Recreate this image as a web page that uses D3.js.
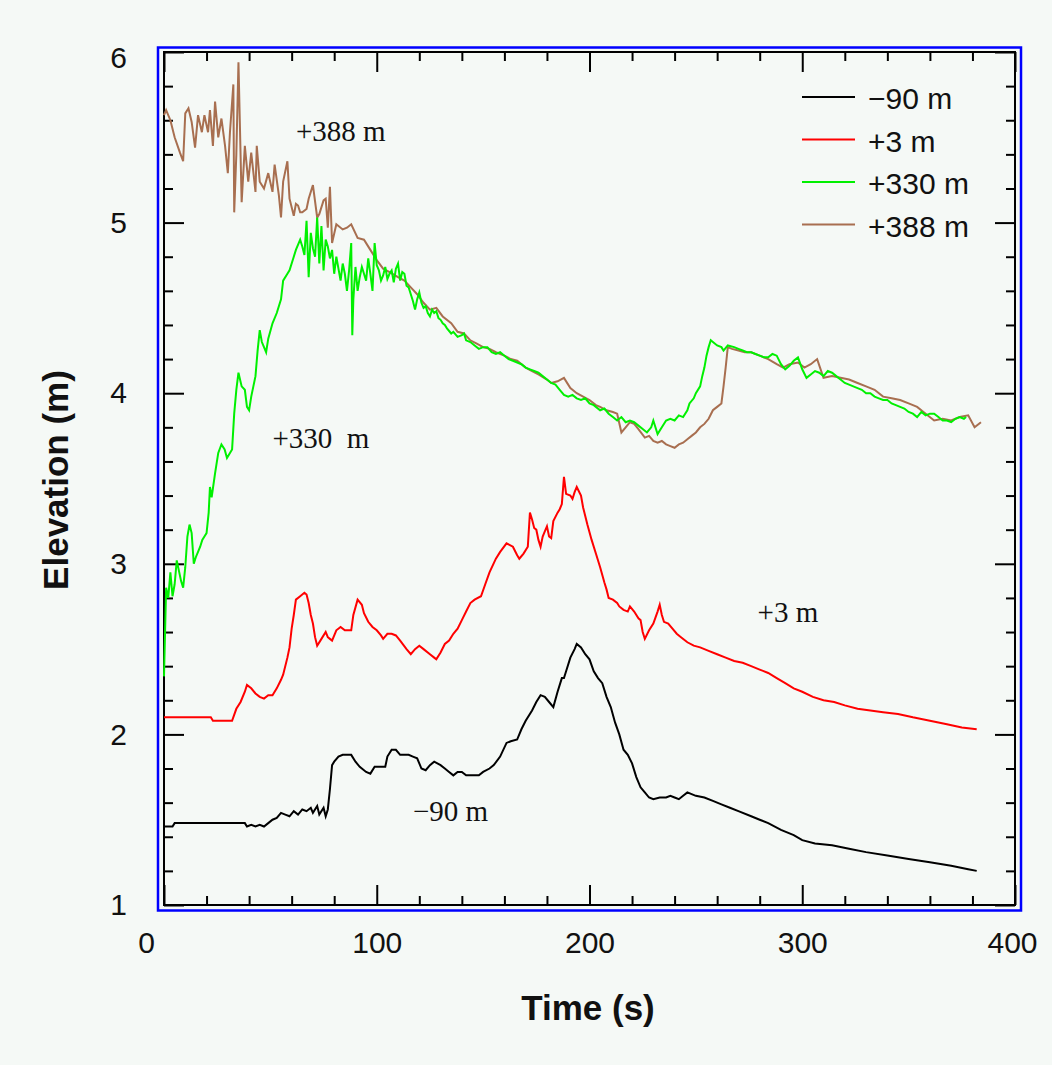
<!DOCTYPE html>
<html>
<head>
<meta charset="utf-8">
<script src="https://cdn.jsdelivr.net/npm/d3@7"></script>
<style>
  body { margin: 0; background: #f5f9f6; }
  svg { display: block; }
</style>
</head>
<body>
<script>
// series: [time (s), elevation (m)]
const blackData = [[0,1.46],[4,1.46],[5,1.48],[30,1.48],[38,1.48],[39,1.46],[41,1.47],[43,1.46],[45,1.47],[47,1.46],[49,1.48],[51,1.50],[53,1.51],[55,1.54],[57,1.53],[59,1.52],[61,1.55],[63,1.53],[65,1.56],[67,1.55],[69,1.57],[70,1.54],[72,1.58],[73,1.53],[75,1.57],[76,1.52],[77,1.56],[78,1.68],[79,1.82],[80,1.84],[82,1.87],[84,1.88],[88,1.88],[90,1.84],[92,1.81],[95,1.78],[97,1.77],[99,1.81],[104,1.81],[105,1.87],[107,1.91],[109,1.91],[111,1.88],[115,1.88],[117,1.87],[119,1.86],[121,1.80],[123,1.79],[125,1.82],[127,1.84],[130,1.82],[132,1.80],[134,1.78],[136,1.76],[138,1.78],[140,1.78],[142,1.76],[146,1.76],[148,1.76],[150,1.78],[153,1.80],[155,1.82],[158,1.87],[161,1.95],[163,1.96],[166,1.97],[168,2.03],[170,2.08],[173,2.14],[175,2.19],[177,2.23],[179,2.22],[181,2.19],[183,2.16],[185,2.25],[187,2.33],[188,2.33],[189,2.37],[191,2.45],[193,2.50],[194,2.53],[196,2.51],[198,2.47],[200,2.44],[202,2.37],[204,2.33],[206,2.30],[208,2.22],[210,2.16],[212,2.07],[214,2.00],[216,1.91],[218,1.88],[220,1.83],[222,1.75],[224,1.69],[226,1.66],[228,1.63],[230,1.62],[233,1.63],[236,1.63],[238,1.64],[240,1.63],[242,1.62],[244,1.64],[246,1.66],[248,1.65],[250,1.64],[254,1.63],[258,1.61],[262,1.59],[266,1.57],[270,1.55],[276,1.52],[280,1.50],[284,1.48],[290,1.44],[296,1.41],[300,1.38],[306,1.36],[314,1.35],[322,1.33],[330,1.31],[340,1.29],[350,1.27],[360,1.25],[370,1.23],[378,1.21],[382,1.20]];

const redData = [[0,2.10],[22,2.10],[23,2.08],[32,2.08],[34,2.15],[36,2.19],[38,2.25],[39,2.29],[41,2.27],[43,2.24],[45,2.22],[47,2.21],[49,2.23],[51,2.23],[53,2.27],[55,2.32],[56,2.35],[58,2.45],[59,2.51],[60,2.62],[61,2.70],[62,2.79],[64,2.81],[66,2.83],[67,2.82],[68,2.77],[69,2.70],[70,2.65],[71,2.57],[72,2.52],[74,2.56],[76,2.60],[77,2.57],[78,2.56],[79,2.55],[81,2.61],[83,2.63],[85,2.61],[88,2.61],[89,2.70],[91,2.79],[93,2.76],[94,2.71],[96,2.66],[98,2.63],[100,2.61],[102,2.58],[103,2.56],[105,2.59],[107,2.59],[109,2.58],[111,2.55],[114,2.50],[116,2.47],[118,2.50],[120,2.52],[122,2.50],[125,2.47],[127,2.45],[128,2.44],[130,2.48],[132,2.53],[134,2.55],[136,2.59],[138,2.62],[140,2.67],[142,2.72],[144,2.77],[146,2.79],[149,2.81],[151,2.88],[153,2.95],[156,3.03],[158,3.07],[161,3.12],[164,3.10],[166,3.05],[167,3.03],[169,3.06],[171,3.10],[172,3.30],[173,3.26],[174,3.21],[175,3.20],[176,3.14],[177,3.10],[178,3.16],[179,3.19],[180,3.22],[181,3.16],[182,3.15],[183,3.25],[185,3.30],[186,3.32],[187,3.35],[188,3.51],[189,3.41],[191,3.40],[192,3.38],[193,3.42],[194,3.45],[196,3.40],[197,3.33],[199,3.23],[201,3.14],[203,3.06],[205,2.98],[207,2.89],[208,2.85],[209,2.80],[211,2.79],[213,2.77],[214,2.75],[216,2.73],[218,2.72],[219,2.75],[221,2.72],[223,2.68],[224,2.67],[225,2.60],[226,2.56],[228,2.61],[230,2.65],[232,2.72],[233,2.76],[234,2.70],[235,2.66],[237,2.65],[239,2.62],[241,2.59],[243,2.57],[246,2.54],[249,2.52],[252,2.51],[256,2.49],[260,2.47],[264,2.45],[268,2.43],[272,2.42],[276,2.40],[280,2.38],[284,2.36],[288,2.33],[292,2.30],[296,2.27],[300,2.25],[305,2.22],[310,2.20],[315,2.19],[320,2.17],[326,2.15],[332,2.14],[338,2.13],[345,2.12],[352,2.10],[360,2.08],[368,2.06],[375,2.04],[382,2.03]];

const greenData = [[0,2.34],[0.5,2.60],[1,2.86],[2,2.80],[3,2.95],[4,2.81],[5,2.88],[6,3.02],[7,2.96],[8,2.90],[9,2.86],[10,2.98],[11,3.16],[12,3.23],[13,3.18],[14,3.00],[15,3.04],[16,3.07],[17,3.10],[18,3.14],[19,3.16],[20,3.18],[21,3.30],[21.6,3.45],[22.4,3.39],[24,3.53],[25.5,3.65],[27,3.70],[28.5,3.67],[29.6,3.62],[31,3.65],[32,3.67],[33,3.88],[34,4.02],[35,4.12],[36.5,4.04],[38,4.02],[39,3.92],[40,3.90],[41,3.98],[43,4.10],[44,4.25],[45,4.37],[46,4.30],[48,4.24],[49,4.32],[51,4.41],[53,4.47],[55,4.55],[56,4.66],[58,4.70],[59,4.72],[61,4.80],[62,4.84],[64,4.90],[65,4.86],[66,4.81],[67,5.01],[68,4.68],[69,4.94],[70,4.85],[71,4.80],[72,5.03],[73,4.76],[74,4.98],[75,4.72],[76,4.90],[77,4.86],[78,4.79],[79,4.84],[80,4.70],[81,4.80],[82,4.73],[83,4.66],[84,4.76],[85,4.70],[86,4.60],[87,4.72],[88,4.88],[88.5,4.34],[89,4.55],[90,4.74],[91,4.60],[92,4.68],[93,4.74],[94,4.70],[95,4.66],[96,4.79],[97,4.70],[98,4.60],[99,4.88],[100,4.75],[101,4.72],[102,4.66],[103,4.69],[104,4.74],[105,4.67],[106,4.70],[107,4.72],[108,4.65],[109,4.73],[110,4.76],[111,4.66],[112,4.71],[113,4.70],[114,4.63],[115,4.62],[116,4.58],[117,4.54],[118,4.49],[119,4.55],[120,4.59],[121,4.53],[122,4.50],[123,4.51],[124,4.47],[125,4.45],[126,4.49],[127,4.47],[128,4.48],[129,4.44],[130,4.43],[131,4.41],[132,4.40],[133,4.38],[135,4.35],[136,4.36],[138,4.33],[140,4.34],[141,4.35],[142,4.31],[144,4.30],[146,4.28],[148,4.26],[150,4.27],[152,4.27],[154,4.24],[156,4.23],[158,4.24],[160,4.22],[162,4.20],[164,4.19],[166,4.18],[168,4.17],[170,4.15],[172,4.14],[174,4.13],[176,4.12],[178,4.10],[180,4.08],[182,4.06],[184,4.05],[186,4.02],[188,3.99],[190,3.98],[192,3.99],[194,3.97],[196,3.96],[198,3.97],[200,3.94],[202,3.93],[205,3.90],[207,3.91],[209,3.88],[211,3.86],[213,3.84],[215,3.86],[217,3.83],[219,3.84],[221,3.83],[223,3.81],[225,3.79],[227,3.77],[229,3.80],[230,3.84],[232,3.76],[234,3.80],[236,3.84],[238,3.85],[240,3.84],[242,3.87],[244,3.86],[246,3.90],[247,3.94],[249,3.97],[250,4.00],[252,4.04],[253,4.10],[254,4.15],[255,4.22],[256,4.27],[257,4.31],[258,4.30],[260,4.28],[262,4.27],[263,4.25],[265,4.28],[268,4.27],[270,4.26],[272,4.25],[274,4.24],[276,4.24],[278,4.23],[280,4.22],[282,4.21],[284,4.21],[286,4.23],[288,4.22],[290,4.17],[292,4.14],[294,4.16],[296,4.19],[298,4.21],[300,4.14],[302,4.09],[304,4.11],[306,4.13],[308,4.12],[310,4.10],[312,4.13],[314,4.12],[316,4.10],[318,4.08],[320,4.06],[322,4.05],[324,4.04],[326,4.03],[328,4.02],[330,4.00],[332,4.00],[334,3.98],[336,3.97],[338,3.96],[340,3.96],[342,3.94],[344,3.93],[346,3.92],[348,3.91],[350,3.89],[352,3.88],[354,3.86],[356,3.89],[358,3.87],[360,3.88],[362,3.88],[364,3.86],[366,3.84],[368,3.84],[370,3.83],[372,3.85],[374,3.86],[376,3.85],[377,3.86]];

const brownData = [[0,5.63],[1,5.66],[3,5.60],[5,5.50],[7.5,5.41],[9,5.36],[10,5.64],[11.5,5.67],[13,5.59],[14.6,5.44],[16,5.63],[17.8,5.53],[19,5.63],[20.7,5.53],[21.6,5.66],[23,5.45],[24,5.71],[25.5,5.50],[27,5.61],[28.7,5.45],[30,5.29],[31,5.53],[32.6,5.81],[33,5.06],[34,5.40],[35,5.94],[36.5,5.12],[38,5.45],[39.6,5.24],[41,5.41],[43,5.18],[43.6,5.45],[45,5.24],[47,5.20],[49,5.29],[51,5.18],[52,5.34],[54,5.16],[55,5.03],[56,5.24],[58,5.36],[59,5.14],[61,5.04],[62,5.11],[63,5.10],[64,5.06],[65,5.06],[67,5.08],[68,5.14],[70,5.22],[72,5.03],[73,5.05],[75,5.13],[76,5.14],[77,4.97],[78,5.21],[79,4.88],[81,4.99],[84,4.96],[86,4.97],[88,4.99],[91,4.91],[94,4.90],[97,4.84],[100,4.78],[103,4.73],[106,4.71],[110,4.68],[113,4.66],[116,4.62],[119,4.58],[122,4.53],[125,4.49],[128,4.50],[131,4.45],[135,4.41],[138,4.36],[141,4.35],[144,4.31],[147,4.29],[150,4.27],[153,4.26],[156,4.24],[160,4.22],[163,4.20],[166,4.19],[170,4.15],[173,4.13],[176,4.11],[180,4.08],[182,4.06],[185,4.07],[188,4.09],[191,4.03],[194,4.00],[197,3.98],[200,3.96],[203,3.93],[205,3.92],[208,3.90],[211,3.89],[213,3.88],[215,3.77],[217,3.80],[219,3.83],[221,3.82],[223,3.79],[226,3.74],[228,3.75],[230,3.72],[232,3.71],[234,3.72],[236,3.70],[238,3.69],[240,3.68],[242,3.70],[244,3.71],[246,3.73],[248,3.75],[250,3.77],[252,3.80],[254,3.82],[256,3.85],[258,3.90],[260,3.92],[262,3.94],[263,4.04],[264,4.15],[265,4.27],[267,4.26],[270,4.25],[273,4.24],[276,4.24],[280,4.22],[284,4.20],[288,4.17],[291,4.15],[294,4.17],[298,4.18],[301,4.15],[304,4.17],[307,4.20],[310,4.09],[314,4.10],[318,4.09],[322,4.08],[326,4.06],[330,4.04],[334,4.02],[338,3.98],[342,3.97],[346,3.96],[350,3.94],[354,3.92],[358,3.88],[362,3.84],[366,3.85],[370,3.84],[374,3.86],[378,3.87],[381,3.80],[384,3.83]];

const seriesNames = ["\u221290 m", "+3 m", "+330 m", "+388 m"];
const seriesColors = ["#000000", "#ff0000", "#00f000", "#a86f50"];

const xMajor = [0, 100, 200, 300, 400];
const yMajor = [1, 2, 3, 4, 5, 6];

// labels written on the curves
const notes = [
  {text: "+388 m", t: 62, v: 5.48},
  {text: "+330  m", t: 51, v: 3.68},
  {text: "+3 m", t: 279, v: 2.66},
  {text: "\u221290 m", t: 117, v: 1.49}
];

const W = 1052, H = 1065;
const plotLeft = 164, plotRight = 1015, plotTop = 52, plotBottom = 905;

const svg = d3.select("body").append("svg")
    .attr("width", W)
    .attr("height", H);

svg.append("rect")
    .attr("width", W).attr("height", H)
    .attr("fill", "#f5f9f6");

const x = d3.scaleLinear().domain([0, 400]).range([plotLeft, plotRight]);
const y = d3.scaleLinear().domain([1, 6]).range([plotBottom, plotTop]);

// minor ticks every 20 s and every 0.2 m
const xMinor = d3.range(20, 400, 20).filter(d => d % 100 !== 0);
const yMinor = d3.range(1.2, 6, 0.2).filter(d => Math.abs(d - Math.round(d)) > 0.01);

// blue outer frame + black plot frame
svg.append("rect")
    .attr("x", 158).attr("y", 47.5)
    .attr("width", 863).attr("height", 863)
    .attr("fill", "none").attr("stroke", "#0000ff").attr("stroke-width", 2.5);
svg.append("rect")
    .attr("x", plotLeft).attr("y", plotTop)
    .attr("width", plotRight - plotLeft).attr("height", plotBottom - plotTop)
    .attr("fill", "#f5f9f6").attr("stroke", "#000").attr("stroke-width", 2);

function styleAxis(g) {
  g.select(".domain").remove();
  g.selectAll("line").attr("stroke", "#000").attr("stroke-width", 2);
  g.attr("font-family", "'Liberation Sans', Arial, sans-serif").attr("font-size", 30);
  g.selectAll("text").attr("fill", "#111");
}

// bottom
svg.append("g").attr("transform", `translate(0,${plotBottom})`)
    .call(d3.axisBottom(x).tickValues(xMajor).tickSize(-20).tickPadding(27).tickFormat(d3.format("d")))
    .call(styleAxis)
    .call(g => g.selectAll(".tick text").filter(d => d === 0).attr("x", -18))
    .call(g => g.selectAll(".tick text").filter(d => d === 400).attr("x", -3));
svg.append("g").attr("transform", `translate(0,${plotBottom})`)
    .call(d3.axisBottom(x).tickValues(xMinor).tickSize(-9).tickFormat(""))
    .call(styleAxis);
// top
svg.append("g").attr("transform", `translate(0,${plotTop})`)
    .call(d3.axisTop(x).tickValues(xMajor).tickSize(-20).tickFormat(""))
    .call(styleAxis);
svg.append("g").attr("transform", `translate(0,${plotTop})`)
    .call(d3.axisTop(x).tickValues(xMinor).tickSize(-9).tickFormat(""))
    .call(styleAxis);
// left
svg.append("g").attr("transform", `translate(${plotLeft},0)`)
    .call(d3.axisLeft(y).tickValues(yMajor).tickSize(-20).tickPadding(37).tickFormat(d3.format("d")))
    .call(styleAxis)
    .call(g => g.selectAll(".tick text").filter(d => d === 6).attr("dy", "0.5em"));
svg.append("g").attr("transform", `translate(${plotLeft},0)`)
    .call(d3.axisLeft(y).tickValues(yMinor).tickSize(-9).tickFormat(""))
    .call(styleAxis);
// right
svg.append("g").attr("transform", `translate(${plotRight},0)`)
    .call(d3.axisRight(y).tickValues(yMajor).tickSize(-20).tickFormat(""))
    .call(styleAxis);
svg.append("g").attr("transform", `translate(${plotRight},0)`)
    .call(d3.axisRight(y).tickValues(yMinor).tickSize(-9).tickFormat(""))
    .call(styleAxis);

// lines
const line = d3.line().x(d => x(d[0])).y(d => y(d[1]));
const allSeries = [blackData, redData, greenData, brownData];
// brown under green, red, black on top
[3, 2, 1, 0].forEach(i => {
  svg.append("path")
      .datum(allSeries[i])
      .attr("d", line)
      .attr("fill", "none")
      .attr("stroke", seriesColors[i])
      .attr("stroke-width", 2)
      .attr("stroke-linejoin", "miter");
});

// legend
const legend = svg.append("g");
seriesNames.forEach((name, i) => {
  const ly = 97 + i * 42.5;
  legend.append("line")
      .attr("x1", 802).attr("x2", 855)
      .attr("y1", ly).attr("y2", ly)
      .attr("stroke", seriesColors[i]).attr("stroke-width", 2);
  legend.append("text")
      .attr("x", 868).attr("y", ly + 12)
      .attr("font-family", "'Liberation Sans', Arial, sans-serif")
      .attr("font-size", 30)
      .attr("fill", "#111")
      .text(name);
});

// notes on the curves
svg.append("g").selectAll("text")
  .data(notes)
  .join("text")
    .attr("x", d => x(d.t))
    .attr("y", d => y(d.v))
    .attr("font-family", "'Liberation Serif', 'Times New Roman', serif")
    .attr("font-size", 29)
    .attr("fill", "#111")
    .style("white-space", "pre")
    .text(d => d.text);

// axis titles
svg.append("text")
    .attr("x", 588).attr("y", 1020)
    .attr("text-anchor", "middle")
    .attr("font-family", "'Liberation Sans', Arial, sans-serif")
    .attr("font-weight", "bold")
    .attr("font-size", 35)
    .attr("fill", "#111")
    .text("Time (s)");
svg.append("text")
    .attr("transform", "translate(68,480) rotate(-90)")
    .attr("text-anchor", "middle")
    .attr("font-family", "'Liberation Sans', Arial, sans-serif")
    .attr("font-weight", "bold")
    .attr("font-size", 35)
    .attr("fill", "#111")
    .text("Elevation (m)");
</script>
</body>
</html>
